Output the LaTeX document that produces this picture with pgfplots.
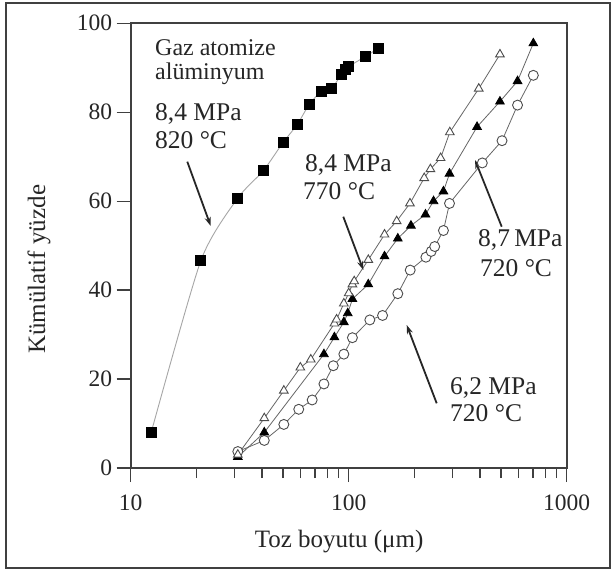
\documentclass[border=0pt]{standalone}
\usepackage{fontspec}
\setmainfont{Liberation Serif}
\usepackage{pgfplots}
\pgfplotsset{compat=1.18}
\usetikzlibrary{arrows.meta}

\pgfplotstableread{
x y
12.4 7.9
21 46.7
31 60.7
40.5 66.8
50 73.2
58 77.2
66 81.8
75 84.7
83.5 85.4
93 88.6
97 89.6
100 90.3
119 92.5
137 94.4
}\sqdata

\pgfplotstableread{
x y
31 3
41 11.2
50.4 17.4
60 22.6
67 24.4
86 32.5
88 33.4
95 37
100 39.3
104 41.3
106 42
123 46.8
146 52.5
166 55.5
191 59.5
222 65.2
237 67.2
264 69.7
291 75.5
395 85.3
494 93
}\opentri

\pgfplotstableread{
x y
31 2.5
41 8
77 25.6
86 29.4
95 32.8
99 34.8
104 38
123 41.3
146 47.6
168 51.6
193 54.5
225 57
245 60
272 62.2
290 66.2
388 76.7
494 82.4
595 87
703 95.5
}\filltri

\pgfplotstableread{
x y
31 3.7
41 6.2
50.4 9.8
59 13.2
68 15.3
77 18.9
85 23
95 25.6
104 29.3
125 33.3
143 34.3
168 39.2
191.5 44.5
226 47.4
239 48.7
248 49.8
272 53.4
290 59.5
410 68.6
505 73.6
595 81.6
703 88.3
}\circdata

\begin{document}
\begin{tikzpicture}
\useasboundingbox (-130.7bp,-106bp) rectangle (484.3bp,468bp);
\fill[white] (-130.7bp,-106bp) rectangle (484.3bp,468bp);
\draw[line width=2bp, black!75] (-124.7bp,-100bp) rectangle (479.3bp,465bp);
\begin{axis}[
 at={(0,0)}, anchor=south west,
 scale only axis, width=436bp, height=444.7bp,
 xmode=log, xmin=10, xmax=1000, ymin=0, ymax=100,
 xtick={10,100,1000}, xticklabels={10,100,1000},
 ytick={0,20,40,60,80,100},
 tick align=outside, tick pos=left,
 major tick length=14bp, minor tick length=10bp,
 axis line style={line width=1.6bp, black!75},
 every tick/.style={line width=1.3bp, black!75},
 /pgf/number format/assume math mode=true,
 ticklabel style={font=\fontsize{23.5bp}{26bp}\selectfont, text=black!85},
 xticklabel style={yshift=-9bp},
 yticklabel style={xshift=-1bp},
 xlabel={Toz boyutu (μm)}, ylabel={Kümülatif yüzde},
 label style={font=\fontsize{25bp}{28bp}\selectfont, text=black!85},
 xlabel style={at={(axis description cs:0.478,-0.166)}, anchor=center},
 ylabel style={at={(axis description cs:-0.21,0.447)}, anchor=center},
 clip=false,
]
\addplot[gray!70, line width=0.9bp, smooth, tension=0.4, mark=square*, mark size=5bp,
  mark options={fill=black, draw=black, solid}] table {\sqdata};
\addplot[black!60, line width=0.8bp, mark=*, mark size=5bp,
  mark options={fill=white, draw=black!70, line width=0.9bp}] table {\circdata};
\addplot[black!60, line width=0.8bp, mark=triangle*, mark size=5bp,
  mark options={fill=black, draw=black}] table {\filltri};
\addplot[black!60, line width=0.8bp, mark=triangle*, mark size=5bp,
  mark options={fill=white, draw=black!70, line width=0.9bp}] table {\opentri};

\begin{scope}[every node/.style={anchor=base west, inner sep=0pt, text=black!85, font=\fontsize{25.5bp}{28bp}\selectfont}]
\node at (axis description cs:0.0557,0.9287) {\fontsize{24bp}{28bp}\selectfont Gaz atomize};
\node at (axis description cs:0.0557,0.8725) {\fontsize{24bp}{28bp}\selectfont alüminyum};
\node at (axis description cs:0.0557,0.7825) {8,4 MPa};
\node at (axis description cs:0.0557,0.7189) {820 °C};
\node at (axis description cs:0.3998,0.6663) {8,4 MPa};
\node at (axis description cs:0.3952,0.6027) {770 °C};
\node at (axis description cs:0.7965,0.4970) {8,7\,MPa};
\node at (axis description cs:0.8011,0.4302) {720 °C};
\node at (axis description cs:0.7324,0.1642) {6,2 MPa};
\node at (axis description cs:0.7324,0.1041) {720 °C};
\end{scope}
\begin{scope}[line width=1.8bp, black!85, -{Stealth[length=9bp,width=6bp]}]
\draw (axis description cs:0.1298,0.6888) -- (axis description cs:0.1835,0.5442);
\draw (axis description cs:0.4876,0.5651) -- (axis description cs:0.5335,0.4453);
\draw (axis description cs:0.8509,0.5426) -- (axis description cs:0.7897,0.6926);
\draw (axis description cs:0.7018,0.1455) -- (axis description cs:0.6330,0.3216);
\end{scope}
\end{axis}
\end{tikzpicture}
\end{document}
